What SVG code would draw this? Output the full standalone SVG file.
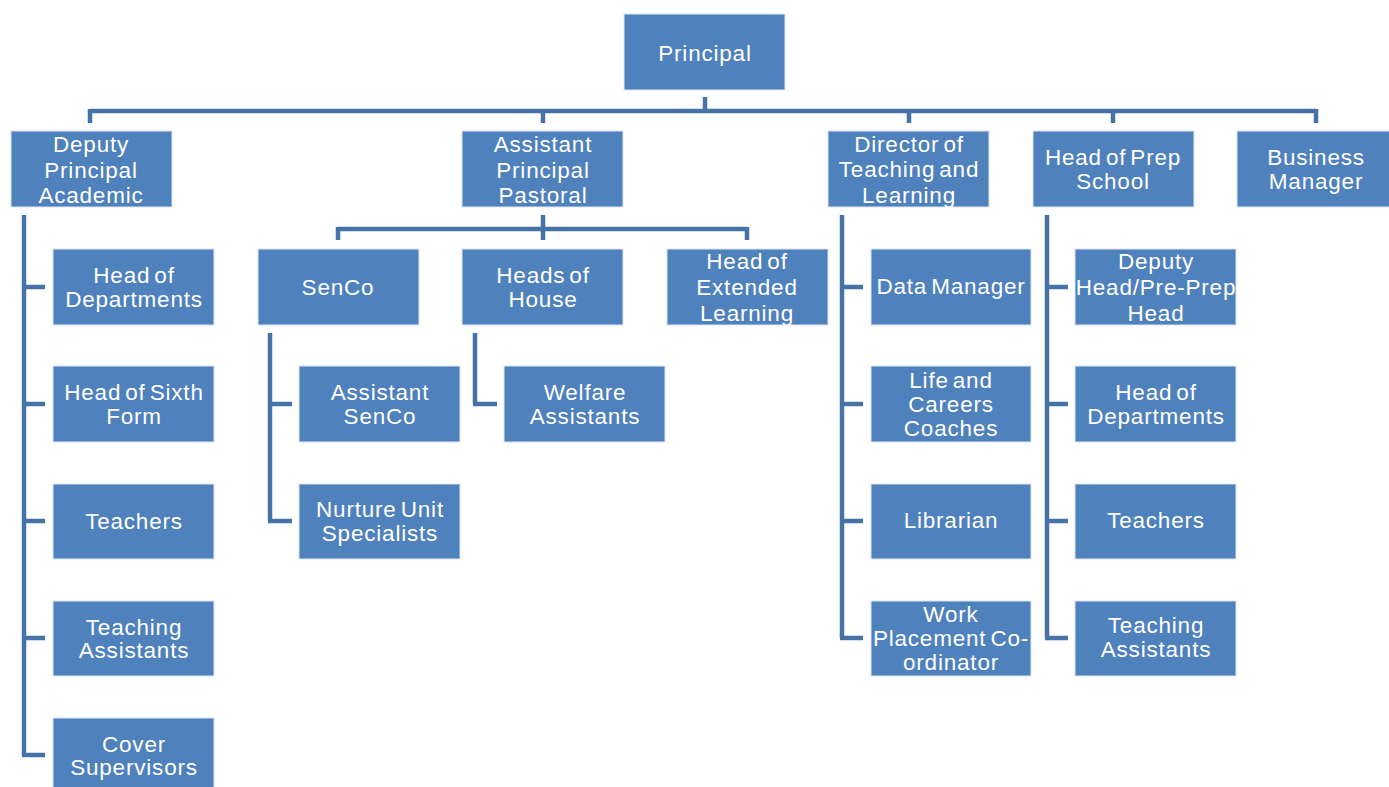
<svg xmlns="http://www.w3.org/2000/svg" width="1389" height="787" viewBox="0 0 1389 787">
<style>
.b{fill:#4F81BD;stroke:#DCE6F2;stroke-width:1}
.t{fill:#FFFFFF;font-family:"Liberation Sans",Arial,sans-serif;font-size:22.5px;letter-spacing:0.8px;word-spacing:-3px;text-anchor:middle}
.c{fill:none;stroke:#4673A6;stroke-width:4.5;stroke-linejoin:miter;stroke-linecap:butt}
</style>
<rect width="1389" height="787" fill="#FFFFFF"/>
<g id="connectors" class="c">
<path d="M705 97V111M90 111H1316M90 109V123M543 109V123M909 109V123M1113 109V123M1316 109V123"/>
<path d="M24 215V755M22 287H45M22 404H45M22 521H45M22 638H45M22 755H45"/>
<path d="M543 215V240M338 229H747M338 227V240M747 227V240"/>
<path d="M270 333V521M268 404H292M268 521H292"/>
<path d="M475 333V404M473 404H497"/>
<path d="M842 215V638M840 287H863M840 404H863M840 521H863M840 638H863"/>
<path d="M1047 215V638M1045 287H1068M1045 404H1068M1045 521H1068M1045 638H1068"/>
</g>
<g id="principal"><rect class="b" x="624" y="14" width="161" height="76"/><text class="t" x="705" y="61">Principal</text></g>
<g id="deputy-principal-academic"><rect class="b" x="11" y="131" width="161" height="76"/><text class="t" x="91" y="152">Deputy</text><text class="t" x="91" y="177.5">Principal</text><text class="t" x="91" y="203.3">Academic</text></g>
<g id="assistant-principal-pastoral"><rect class="b" x="462" y="131" width="161" height="76"/><text class="t" x="543" y="152">Assistant</text><text class="t" x="543" y="177.5">Principal</text><text class="t" x="543" y="203.3">Pastoral</text></g>
<g id="director-teaching-learning"><rect class="b" x="828" y="131" width="161" height="76"/><text class="t" x="909" y="151.7">Director of</text><text class="t" x="909" y="177.3">Teaching and</text><text class="t" x="909" y="203">Learning</text></g>
<g id="head-prep-school"><rect class="b" x="1033" y="131" width="161" height="76"/><text class="t" x="1113" y="165">Head of Prep</text><text class="t" x="1113" y="188.5">School</text></g>
<g id="business-manager"><rect class="b" x="1237" y="131" width="161" height="76"/><text class="t" x="1316" y="165">Business</text><text class="t" x="1316" y="188.5">Manager</text></g>
<g id="head-of-departments-1"><rect class="b" x="53" y="249" width="161" height="76"/><text class="t" x="134" y="283.3">Head of</text><text class="t" x="134" y="306.7">Departments</text></g>
<g id="head-of-sixth-form"><rect class="b" x="53" y="366" width="161" height="76"/><text class="t" x="134" y="400">Head of Sixth</text><text class="t" x="134" y="423.5">Form</text></g>
<g id="teachers-1"><rect class="b" x="53" y="484" width="161" height="75"/><text class="t" x="134" y="529">Teachers</text></g>
<g id="teaching-assistants-1"><rect class="b" x="53" y="601" width="161" height="75"/><text class="t" x="134" y="634.5">Teaching</text><text class="t" x="134" y="658">Assistants</text></g>
<g id="cover-supervisors"><rect class="b" x="53" y="718" width="161" height="76"/><text class="t" x="134" y="751.5">Cover</text><text class="t" x="134" y="775">Supervisors</text></g>
<g id="senco"><rect class="b" x="258" y="249" width="161" height="76"/><text class="t" x="338" y="295">SenCo</text></g>
<g id="heads-of-house"><rect class="b" x="462" y="249" width="161" height="76"/><text class="t" x="543" y="283">Heads of</text><text class="t" x="543" y="306.5">House</text></g>
<g id="head-extended-learning"><rect class="b" x="667" y="249" width="161" height="76"/><text class="t" x="747" y="268.5">Head of</text><text class="t" x="747" y="294.5">Extended</text><text class="t" x="747" y="320.5">Learning</text></g>
<g id="assistant-senco"><rect class="b" x="299" y="366" width="161" height="76"/><text class="t" x="380" y="400">Assistant</text><text class="t" x="380" y="423.5">SenCo</text></g>
<g id="nurture-unit-specialists"><rect class="b" x="299" y="484" width="161" height="75"/><text class="t" x="380" y="517">Nurture Unit</text><text class="t" x="380" y="540.5">Specialists</text></g>
<g id="welfare-assistants"><rect class="b" x="504" y="366" width="161" height="76"/><text class="t" x="585" y="400">Welfare</text><text class="t" x="585" y="423.5">Assistants</text></g>
<g id="data-manager"><rect class="b" x="871" y="249" width="160" height="76"/><text class="t" x="951" y="294">Data Manager</text></g>
<g id="life-careers-coaches"><rect class="b" x="871" y="366" width="160" height="76"/><text class="t" x="951" y="388">Life and</text><text class="t" x="951" y="412">Careers</text><text class="t" x="951" y="436">Coaches</text></g>
<g id="librarian"><rect class="b" x="871" y="484" width="160" height="75"/><text class="t" x="951" y="527.5">Librarian</text></g>
<g id="work-placement-coordinator"><rect class="b" x="871" y="601" width="160" height="75"/><text class="t" x="951" y="622">Work</text><text class="t" x="951" y="646">Placement Co-</text><text class="t" x="951" y="670">ordinator</text></g>
<g id="deputy-head-pre-prep"><rect class="b" x="1075" y="249" width="161" height="76"/><text class="t" x="1156" y="268.5">Deputy</text><text class="t" x="1156" y="295">Head/Pre-Prep</text><text class="t" x="1156" y="321">Head</text></g>
<g id="head-of-departments-2"><rect class="b" x="1075" y="366" width="161" height="76"/><text class="t" x="1156" y="400">Head of</text><text class="t" x="1156" y="423.5">Departments</text></g>
<g id="teachers-2"><rect class="b" x="1075" y="484" width="161" height="75"/><text class="t" x="1156" y="527.5">Teachers</text></g>
<g id="teaching-assistants-2"><rect class="b" x="1075" y="601" width="161" height="75"/><text class="t" x="1156" y="633">Teaching</text><text class="t" x="1156" y="656.5">Assistants</text></g>
</svg>
